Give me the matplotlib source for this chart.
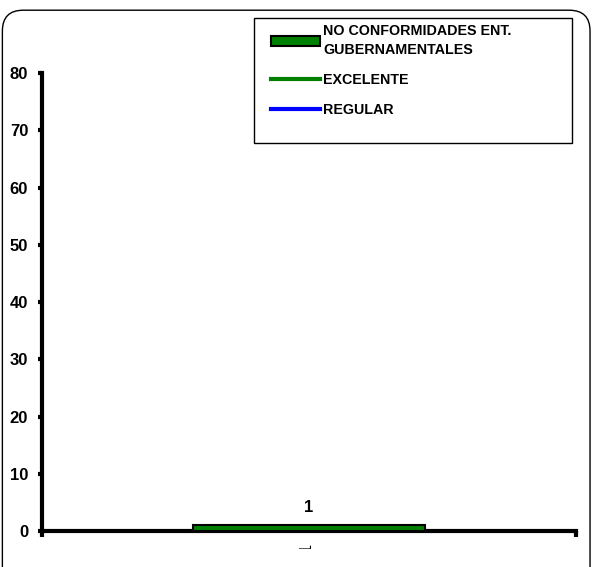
import matplotlib.pyplot as plt
from matplotlib.lines import Line2D
from matplotlib.patches import Patch, FancyBboxPatch, Rectangle
from matplotlib.transforms import Bbox, TransformedBbox

# data
categories = ['1']
no_conformidades = [1]
series_labels = ['NO CONFORMIDADES ENT.\nGUBERNAMENTALES', 'EXCELENTE', 'REGULAR']
y_ticks = [0, 10, 20, 30, 40, 50, 60, 70, 80]

plt.rcParams['font.family'] = ['Liberation Sans', 'DejaVu Sans']
plt.rcParams['font.weight'] = 'bold'

fig = plt.figure(figsize=(5.96, 5.67), dpi=100)

# rounded chart-area frame
frame = FancyBboxPatch((0.004, -0.05), 0.986, 1.032, boxstyle='round,pad=0,rounding_size=0.035',
                       transform=fig.transFigure, facecolor='none', edgecolor='black',
                       linewidth=1.0, mutation_aspect=596/567)
fig.patches.append(frame)

ax = fig.add_axes([0.0705, 0.0635, 0.8955, 0.8075])
x = list(range(1, len(categories) + 1))
bars = ax.bar(x, no_conformidades, width=0.435, color='#008000', edgecolor='black', linewidth=1.5, zorder=3)
for xi, v in zip(x, no_conformidades):
    ax.text(xi, v + 1.8, str(v), ha='center', va='bottom', fontsize=12, fontweight='bold')

ax.set_xlim(0.5, len(categories) + 0.5)
ax.set_ylim(0, 80)
ax.set_yticks(y_ticks)
ax.set_yticklabels([str(t) for t in y_ticks], fontsize=12, fontweight='bold')
ax.set_xticks([0.5, 1.5])
ax.set_xticklabels([])
ax.tick_params(axis='y', direction='out', length=3, width=3, pad=7)
ax.tick_params(axis='x', direction='out', length=4, width=3)

# category label, rotated and cut off by the plot-area edge like the original
clip = TransformedBbox(Bbox([[0, 0.032], [1, 1]]), fig.transFigure)
for xi, c in zip(x, categories):
    t = ax.text(xi - 0.004, -2.0, c, rotation=90, ha='center', va='top', fontsize=12,
                fontweight='normal')
    t.set_clip_on(True)
    t.set_clip_box(clip)

for s in ['top', 'right']:
    ax.spines[s].set_visible(False)
ax.spines['left'].set_linewidth(3)
ax.spines['bottom'].set_linewidth(3)
ax.patch.set_alpha(0)

# legend box
fig.patches.append(Rectangle((254 / 596, 1 - 143 / 567), 318 / 596, 125 / 567,
                             transform=fig.transFigure, facecolor='white',
                             edgecolor='black', linewidth=1.0, zorder=0))
handles = [Patch(facecolor='#008000', edgecolor='black', linewidth=1.5),
           Line2D([0], [0], color='#008000', linewidth=3),
           Line2D([0], [0], color='blue', linewidth=3)]
leg = fig.legend(handles, series_labels, loc='upper left',
                 bbox_to_anchor=(271 / 596, 1 - 24 / 567), frameon=False,
                 fontsize=10.3, borderpad=0, labelspacing=1.1, handlelength=3.4,
                 handletextpad=0.25, borderaxespad=0)
for t in leg.get_texts():
    t.set_fontweight('bold')
    t.set_linespacing(1.5)

fig.savefig('out.png', dpi=100)
